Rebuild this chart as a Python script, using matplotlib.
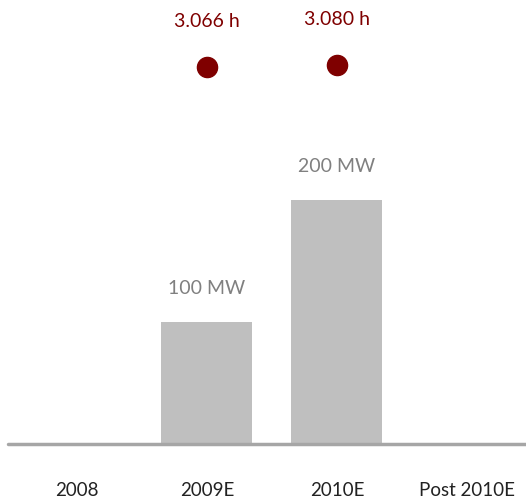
import matplotlib
matplotlib.use("Agg")
import matplotlib.pyplot as plt

# data
categories = ["2008", "2009E", "2010E", "Post 2010E"]
capacity_mw = [0, 100, 200, 0]
hours = [None, 3066, 3080, None]
hour_labels = [None, "3.066 h", "3.080 h", None]

BAR = "#bfbfbf"
RED = "#7f0000"
plt.rcParams["font.family"] = ["Lato", "DejaVu Sans"]

fig = plt.figure(figsize=(5.26, 5.0), dpi=100)
ax = fig.add_axes([0, 0.112, 1, 0.888])
x = list(range(len(categories)))
ax.set_xlim(-0.592, 3.454)
ax.set_ylim(0, 363.9)

ax.bar(x, capacity_mw, width=0.7, color=BAR, zorder=2)
ax.plot([-0.53, 3.454], [0, 0], color="#a6a6a6", lw=2.5, solid_capstyle="round", zorder=3, clip_on=False)
for xi, v in zip(x, capacity_mw):
    if v:
        ax.annotate(f"{v} MW", (xi, v), xytext=(0, 24), textcoords="offset points",
                    ha="center", va="center", fontsize=14, color="#808080")

for xi, lab in zip(x, categories):
    ax.text(xi, -38.5, lab, ha="center", va="center", fontsize=13.5,
            color="#222222", clip_on=False)

ax.axis("off")

# secondary scale for hours
ax2 = ax.twinx()
ax2.set_ylim(427, 3535)
ax2.axis("off")
for xi, h, lab in zip(x, hours, hour_labels):
    if h:
        ax2.plot(xi, h, "o", color=RED, markersize=14.5, zorder=4)
        ax2.annotate(lab, (xi, h), xytext=(0, 33), textcoords="offset points",
                     ha="center", va="center", fontsize=14, color=RED)

fig.savefig("out.png", dpi=100)
